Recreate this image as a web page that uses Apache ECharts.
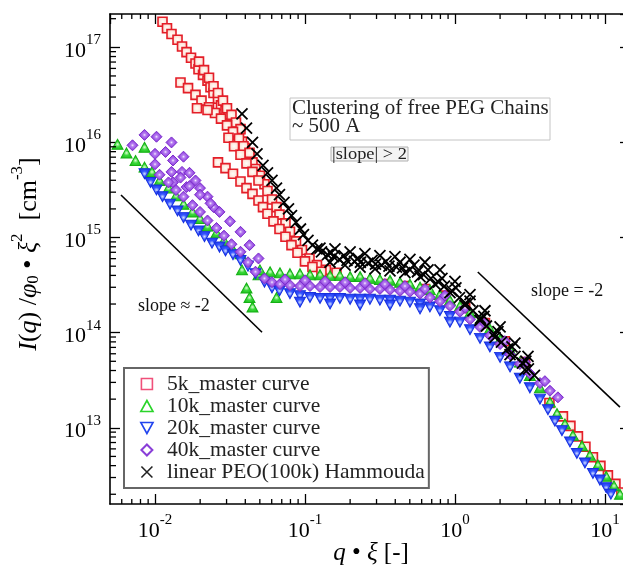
<!DOCTYPE html>
<html><head><meta charset="utf-8">
<script src="https://cdn.jsdelivr.net/npm/echarts@6/dist/echarts.min.js"></script>
<style>html,body{margin:0;padding:0;background:#fff;overflow:hidden}#c{width:623px;height:570px}</style>
</head><body><div id="c"></div>
<script>
const FONT = 'Liberation Serif';
const xRange = [0.00501, 14.7];
const yRange = [1.58e12, 2.24e17];
const xMinorTicks = [0.006,0.007,0.008,0.009,0.02,0.03,0.04,0.05,0.06,0.07,0.08,0.09,0.2,0.3,0.4,0.5,0.6,0.7,0.8,0.9,2,3,4,5,6,7,8,9];
const yMinorTicks = [2e12,3e12,4e12,5e12,6e12,7e12,8e12,9e12,2e13,3e13,4e13,5e13,6e13,7e13,8e13,9e13,2e14,3e14,4e14,5e14,6e14,7e14,8e14,9e14,2e15,3e15,4e15,5e15,6e15,7e15,8e15,9e15,2e16,3e16,4e16,5e16,6e16,7e16,8e16,9e16,2e17];
const seriesNames = ['5k_master curve','10k_master curve','20k_master curve','40k_master curve','linear PEO(100k) Hammouda'];

const data5k = [
[0.01122,1.86e17],[0.01202,1.585e17],[0.01288,1.38e17],[0.01413,1.20e17],[0.01514,1.02e17],[0.01622,8.91e16],[0.01738,7.76e16],[0.01862,6.76e16],[0.0195,5.89e16],[0.02089,5.13e16],[0.02239,4.47e16],[0.02344,3.80e16],[0.02455,3.31e16],[0.0263,2.88e16],[0.02754,2.45e16],[0.02951,2.14e16],[0.0309,1.86e16],[0.03236,1.585e16],[0.03388,1.38e16],[0.03548,1.20e16],[0.03802,1.02e16],[0.03981,8.71e15],[0.04266,7.41e15],[0.04467,6.17e15],[0.04677,5.25e15],[0.05012,4.47e15],[0.0537,3.63e15],[0.05623,3.09e15],[0.06026,2.51e15],[0.06457,2.09e15],[0.06761,1.74e15],[0.07413,1.41e15],[0.07943,1.15e15],[0.0871,9.12e14],[0.0955,7.41e14],[0.1072,6.03e14],[0.1202,5.13e14],[0.138,4.57e14],[0.1622,4.27e14],
[0.01965,7.08e16],[0.02122,5.75e16],[0.02291,4.79e16],[0.02455,3.89e16],[0.0263,3.31e16],[0.02838,2.75e16],[0.0302,2.29e16],[0.03236,1.95e16],[0.03467,1.62e16],[0.03715,1.38e16],
[0.01479,4.27e16],[0.0166,3.72e16],[0.01862,3.16e16],[0.02042,2.75e16],[0.02291,2.34e16],[0.02512,2.04e16],[0.02754,1.78e16],[0.0302,1.51e16],[0.03311,1.29e16],[0.03631,1.10e16],[0.0389,9.12e15],[0.04266,7.76e15],[0.01905,2.29e16],[0.02239,2.19e16],
[0.0309,1.12e16],[0.03365,9.12e15],[0.03715,7.41e15],[0.04074,6.03e15],[0.04467,4.9e15],[0.04898,3.98e15],
[0.0263,6.17e15],[0.02951,5.37e15],[0.03311,4.68e15],[0.03715,3.89e15],[0.04074,3.31e15],[0.04467,2.88e15],[0.04898,2.45e15],[0.05248,2.09e15],[0.05623,1.78e15],[0.06166,1.48e15],[0.06761,1.23e15],[0.07413,1.02e15],[0.08128,8.32e14],[0.08913,6.92e14],[0.1,5.62e14],[0.1122,4.9e14],[0.1288,4.37e14],
[0.185,3.39e14],[0.251,3.31e14],[0.341,3.24e14],[0.464,3.09e14],[0.631,2.88e14],[0.858,2.45e14],[1.17,1.82e14],[1.585,1.26e14],[2.15,8.13e13],[2.93,4.9e13],
[4.266,1.82e13],[5.248,1.318e13],[5.888,1.047e13],[6.607,8.13e12],[7.413,6.31e12],[8.318,4.9e12],[9.333,3.98e12],[10.47,3.16e12],[11.75,2.57e12],[12.88,2.09e12]
];
const data10k = [
[0.005623,9.55e15],[0.006457,7.76e15],[0.007413,6.46e15],[0.008511,8.91e15],[0.008511,5.5e15],[0.00955,4.9e15],[0.01072,3.98e15],[0.0123,3.31e15],[0.0138,2.75e15],[0.01549,2.24e15],[0.01778,1.86e15],[0.01995,1.585e15],[0.02239,1.318e15],[0.0257,1.122e15],[0.02884,9.33e14],[0.03236,7.94e14],[0.03715,6.76e14],
[0.03802,4.57e14],[0.04074,2.95e14],[0.04266,2.34e14],[0.04467,1.86e14],[0.06457,2.34e14],[0.04898,4.07e14],
[0.0501,4.57e14],[0.0585,4.37e14],[0.0681,4.27e14],[0.0794,4.17e14],[0.0926,4.17e14],[0.108,4.07e14],[0.126,4.07e14],[0.147,3.98e14],[0.171,3.98e14],[0.2,3.89e14],[0.233,3.89e14],[0.271,3.72e14],[0.316,3.63e14],[0.369,3.55e14],[0.43,3.39e14],[0.501,3.24e14],[0.585,3.02e14],[0.681,2.82e14],[0.794,2.51e14],[0.926,2.19e14],[1.08,1.91e14],[1.26,1.62e14],[1.47,1.35e14],[1.71,1.096e14],[2.0,8.51e13],[2.33,6.61e13],[2.71,4.9e13],[3.16,3.55e13],[3.69,2.63e13],[4.3,1.86e13],[4.79,1.41e13],[5.41,1.096e13],[6.12,8.32e12],[7.03,6.46e12],[7.94,5.13e12],[8.98,4.07e12],[10.2,3.09e12],[11.5,2.45e12],[12.6,2.0e12]
];
const data20k = [
[0.008511,4.68e15],[0.009333,3.8e15],[0.01023,3.16e15],[0.01122,2.69e15],[0.01259,2.24e15],[0.01413,1.905e15],[0.01549,1.62e15],[0.01738,1.35e15],[0.0195,1.175e15],[0.02138,1.023e15],[0.02399,8.71e14],[0.02692,7.94e14],[0.02951,7.24e14],[0.03311,6.61e14],[0.03715,5.75e14],[0.04169,5.01e14],[0.04677,4.17e14],[0.0537,3.39e14],[0.06026,2.95e14],[0.06761,2.75e14],
[0.0794,2.57e14],[0.0926,2.45e14],[0.108,2.34e14],[0.126,2.29e14],[0.147,2.29e14],[0.171,2.29e14],[0.2,2.24e14],[0.233,2.24e14],[0.271,2.24e14],[0.316,2.19e14],[0.369,2.19e14],[0.43,2.14e14],[0.501,2.09e14],[0.585,2.0e14],[0.681,1.86e14],[0.794,1.7e14],[0.926,1.48e14],[1.08,1.29e14],[1.26,1.072e14],[1.47,8.71e13],[1.71,7.08e13],[2.0,5.5e13],[2.33,4.37e13],[2.71,3.31e13],[3.16,2.63e13],[3.69,2.0e13],[4.17,1.55e13],[4.64,1.175e13],[5.17,9.33e12],[5.85,7.08e12],[6.5,5.37e12],[7.36,4.27e12],[8.32,3.31e12],[9.26,2.82e12],[10.2,2.34e12],[10.96,2.0e12],
[0.0926,2.09e14],[0.147,2.0e14],[0.233,1.95e14],[0.369,1.95e14],[0.585,1.78e14],[0.926,1.29e14]
];
const data40k = [
[0.007079,9.33e15],[0.008511,1.2e16],[0.01023,1.148e16],[0.01288,1.0e16],[0.01,7.59e15],[0.01175,7.94e15],[0.01318,6.46e15],[0.01549,7.08e15],[0.01,5.89e15],[0.01288,4.9e15],[0.01514,4.9e15],[0.01698,4.79e15],[0.01862,3.98e15],[0.01318,3.8e15],[0.01622,3.39e15],[0.01995,3.31e15],[0.02239,2.69e15],[0.02455,2.09e15],
[0.01072,4.57e15],[0.0123,3.8e15],[0.0138,3.16e15],[0.01549,2.69e15],[0.01778,2.19e15],[0.01995,1.86e15],[0.02239,1.51e15],[0.0257,1.26e15],[0.02884,1.047e15],[0.03236,8.51e14],[0.03715,7.08e14],[0.04169,5.5e14],[0.04677,4.37e14],[0.0537,3.72e14],[0.06026,3.39e14],
[0.01479,4.27e15],[0.01698,3.47e15],[0.01995,2.82e15],[0.02344,2.29e15],[0.02692,1.86e15],[0.03162,1.48e15],[0.03715,1.148e15],[0.04266,8.32e14],[0.04898,6.03e14],
[0.0681,3.24e14],[0.0794,3.16e14],[0.0926,3.09e14],[0.108,3.09e14],[0.126,3.02e14],[0.147,3.02e14],[0.171,3.02e14],[0.2,2.95e14],[0.233,2.95e14],[0.271,2.88e14],[0.316,2.88e14],[0.369,2.82e14],[0.43,2.75e14],[0.501,2.69e14],[0.585,2.57e14],[0.681,2.34e14],[0.794,2.14e14],[0.926,1.91e14],[1.08,1.66e14],[1.26,1.38e14],[1.47,1.148e14],[1.71,9.33e13],[2.0,7.59e13],[2.33,5.89e13],[2.71,4.68e13],[3.16,3.72e13],[3.69,2.95e13],[4.3,2.45e13],[4.86,2.09e13],
[0.0736,3.63e14],[0.1,3.55e14],[0.136,3.47e14],[0.185,3.39e14],[0.251,3.31e14],[0.341,3.24e14],[0.464,3.09e14],[0.631,2.88e14],[0.858,2.45e14],[1.17,1.82e14],[1.585,1.26e14],[2.15,8.13e13],[2.93,4.9e13],[3.98,3.09e13]
];
const dataPEO = [
[0.03802,2.0e16],[0.04074,1.413e16],[0.04467,1.0e16],[0.04786,7.59e15],[0.05248,5.75e15],[0.05623,4.79e15],[0.06026,3.98e15],[0.06457,3.31e15],[0.06761,2.82e15],[0.07244,2.34e15],[0.07762,2.0e15],[0.08128,1.70e15],[0.0871,1.445e15],[0.09333,1.23e15],[0.09772,1.072e15],[0.1047,9.33e14],[0.1122,8.32e14],[0.1202,7.59e14],[0.1288,7.08e14],[0.1413,6.61e14],[0.1549,6.31e14],[0.1698,5.89e14],[0.1905,5.75e14],[0.2138,5.62e14],[0.2344,5.5e14],[0.263,5.37e14],[0.2951,5.25e14],[0.3236,5.13e14],[0.3631,5.01e14],[0.4074,4.9e14],[0.4467,4.79e14],[0.5012,4.57e14],[0.5623,4.37e14],[0.6166,4.07e14],[0.6918,3.72e14],[0.7762,3.39e14],[0.8511,3.09e14],[0.955,2.75e14],[1.072,2.34e14],[1.175,2.04e14],[1.318,1.70e14],[1.479,1.41e14],[1.622,1.175e14],[1.82,9.77e13],[2.042,7.94e13],[2.239,6.76e13],[2.512,5.62e13],[2.818,4.79e13],[3.09,4.17e13],[3.388,3.55e13],
[0.1259,7.76e14],[0.149,6.92e14],[0.182,6.46e14],[0.2256,6.03e14],[0.28,5.75e14],[0.3467,5.62e14],[0.43,5.5e14],[0.533,5.13e14],[0.661,4.57e14],[0.819,3.72e14],[1.015,2.95e14],[1.26,2.14e14],[1.56,1.48e14],[1.936,1.023e14],[2.40,7.08e13],[2.97,5.01e13],
[0.1468,5.5e14],[0.1849,5.13e14],[0.233,4.9e14],[0.2934,4.68e14],[0.369,4.47e14],[0.464,4.27e14],[0.585,3.89e14],[0.736,3.24e14],[0.926,2.63e14],[1.166,1.95e14],[1.468,1.35e14],[1.848,8.91e13],[2.33,5.89e13],[2.93,4.07e13],
[0.1585,7.59e14],[0.2,7.08e14],[0.251,6.76e14],[0.316,6.46e14],[0.398,6.31e14],[0.501,5.89e14],[0.631,5.5e14],[0.794,4.57e14],[1.0,3.47e14],[1.26,2.51e14],[1.585,1.70e14],[2.0,1.148e14],[2.51,7.76e13],[3.07,5.62e13]
];
const slopeLeft = [[0.00593,2.8e15],[0.0517,1.01e14]];
const slopeRight = [[1.42,4.34e14],[12.6,1.65e13]];

const chart = echarts.init(document.getElementById('c'), null, {renderer:'canvas'});
const pow10 = v => '{b|10}{s|' + Math.round(Math.log10(v)) + '}';
const powRich = {
  b:{fontFamily:FONT, fontSize:22, color:'#000', verticalAlign:'bottom', padding:[7,0,0,0]},
  s:{fontFamily:FONT, fontSize:15, color:'#000', verticalAlign:'top'}
};
function logAxis(pos, showLabel, range, showLine, showTick){
  return {
    type:'log', logBase:10, min:range[0], max:range[1], position:pos,
    axisLine:{show:showLine, onZero:false, lineStyle:{color:'#000', width:1.6}},
    axisTick:{show:showTick, inside:true, length:10, lineStyle:{color:'#000', width:1.3}},
    minorTick:{show:false}, splitLine:{show:false},
    axisLabel:{show:showLabel, showMinLabel:false, showMaxLabel:false, margin:9, formatter:pow10, rich:powRich}
  };
}
const grad = (stops) => ({type:'radial', x:0.5, y:0.5, r:0.6, colorStops:stops.map(c=>({offset:c[0], color:c[1]}))});
const tickStyle = {stroke:'#000', lineWidth:1.3};
function minorX(params, api){
  const cs = params.coordSys;
  const px = api.coord([api.value(0), yRange[0]])[0];
  const b = cs.y + cs.height, t = cs.y;
  return {type:'group', children:[
    {type:'line', shape:{x1:px,y1:b,x2:px,y2:b-5}, style:tickStyle},
    {type:'line', shape:{x1:px,y1:t,x2:px,y2:t+5}, style:tickStyle}
  ]};
}
function minorY(params, api){
  const cs = params.coordSys;
  const py = api.coord([xRange[0], api.value(1)])[1];
  const l = cs.x;
  return {type:'line', shape:{x1:l,y1:py,x2:l+6,y2:py}, style:tickStyle};
}
const legendIcon = {
  sq:'path://M0,0H10V10H0Z', up:'path://M5,0L10,9L0,9Z', dn:'path://M0,0L10,0L5,9Z',
  di:'path://M5,0L10,5L5,10L0,5Z', x:'path://M0,0L10,10M10,0L0,10'
};
const option = {
  animation:false,
  backgroundColor:'#fff',
  grid:{left:110, top:14, width:520, height:490, outerBoundsMode:'none', containLabel:false},
  xAxis:[logAxis('bottom', true, xRange, true, true), logAxis('top', false, xRange, true, true)],
  yAxis:[logAxis('left', true, yRange, true, true), logAxis('right', false, yRange, true, true)],
  legend:{
    orient:'vertical', left:124, top:368,
    backgroundColor:'#fff', borderColor:'#666', borderWidth:2, borderRadius:0,
    padding:[5,4,5,16], itemWidth:14, itemHeight:11, itemGap:0,
    textStyle:{fontFamily:FONT, fontSize:21.5, color:'#222', lineHeight:21, padding:[0,0,0,8]},
    data:[
      {name:seriesNames[0], icon:legendIcon.sq, itemStyle:{color:'rgba(0,0,0,0)', borderColor:'#f0507a', borderWidth:1.6}},
      {name:seriesNames[1], icon:legendIcon.up, itemStyle:{color:'rgba(0,0,0,0)', borderColor:'#2ad42a', borderWidth:1.6}},
      {name:seriesNames[2], icon:legendIcon.dn, itemStyle:{color:'rgba(0,0,0,0)', borderColor:'#2244ee', borderWidth:1.6}},
      {name:seriesNames[3], icon:legendIcon.di, itemStyle:{color:'rgba(0,0,0,0)', borderColor:'#8a3fd8', borderWidth:2}},
      {name:seriesNames[4], icon:legendIcon.x, itemStyle:{color:'rgba(0,0,0,0)', borderColor:'#222', borderWidth:1.6}}
    ]
  },
  graphic:[
    {type:'rect', shape:{x:290,y:98,width:260,height:42}, style:{fill:'#fff', stroke:'#c4c4c4', lineWidth:1}, z:10},
    {type:'text', x:292, y:99, scaleX:1.05, z:11, style:{text:'Clustering of free PEG Chains\n~ 500 A', fontFamily:FONT, fontSize:20, lineHeight:18.5, fill:'#222', align:'left', verticalAlign:'top'}},
    {type:'rect', shape:{x:331,y:147,width:77,height:14}, style:{fill:'#f4f4f4', stroke:'#b0b0b0', lineWidth:1}, z:10},
    {type:'text', x:332, y:154.5, scaleX:1.15, z:11, style:{text:'|slope| > 2', fontFamily:FONT, fontSize:16, fill:'#222', align:'left', verticalAlign:'middle'}},
    {type:'text', x:138, y:306, z:11, style:{text:'slope ≈ -2', fontFamily:FONT, fontSize:18, fill:'#111', align:'left', verticalAlign:'middle'}},
    {type:'text', x:531, y:291, z:11, style:{text:'slope = -2', fontFamily:FONT, fontSize:18, fill:'#111', align:'left', verticalAlign:'middle'}},
    {type:'text', x:371, y:553, z:11, style:{text:'{i|q} • {i|ξ} [-]', fontFamily:FONT, fontSize:25, fill:'#000', align:'center', verticalAlign:'middle',
      rich:{i:{fontFamily:FONT, fontSize:25, fontStyle:'italic', fill:'#000'}}}},
    {type:'text', x:26, y:254, rotation:Math.PI/2, z:11, style:{
      text:'{i|I}{n|(}{i|q}{n|) /}{i|φ}{sub|0}{n| • }{i|ξ}{sup|2}{n|  [cm}{sup|-3}{n|]}',
      fontFamily:FONT, fontSize:26, fill:'#000', align:'center', verticalAlign:'middle',
      rich:{
        n:{fontFamily:FONT, fontSize:26, fill:'#000', verticalAlign:'bottom', padding:[7,0,0,0]},
        i:{fontFamily:FONT, fontSize:26, fontStyle:'italic', fill:'#000', verticalAlign:'bottom', padding:[7,0,0,0]},
        sup:{fontFamily:FONT, fontSize:17, fill:'#000', verticalAlign:'top'},
        sub:{fontFamily:FONT, fontSize:17, fill:'#000', verticalAlign:'bottom'}
      }}}
  ],
  series:[
    {name:seriesNames[0], type:'scatter', data:data5k, symbol:'rect', symbolSize:9,
      itemStyle:{color:grad([[0,'#fffef6'],[0.55,'#fde6dc'],[1,'#f39a8c']]), borderColor:'#e41e28', borderWidth:1.6, opacity:1}},
    {name:seriesNames[1], type:'scatter', data:data10k, symbol:'triangle', symbolSize:[11,10],
      itemStyle:{color:grad([[0,'#d8ffd0'],[0.4,'#3ad83a'],[1,'#18bb18']]), borderColor:'#14b014', borderWidth:1, opacity:1}},
    {name:seriesNames[2], type:'scatter', data:data20k, symbol:'path://M0,0L10,0L5,9Z', symbolSize:[11,10],
      itemStyle:{color:grad([[0,'#cfdcff'],[0.4,'#3555ff'],[1,'#1a34e8']]), borderColor:'#1630e0', borderWidth:1, opacity:1}},
    {name:seriesNames[3], type:'scatter', data:data40k, symbol:'diamond', symbolSize:11,
      itemStyle:{color:grad([[0,'#f6ecff'],[0.22,'#b57ef0'],[0.6,'#9646e2'],[1,'#8636d6']]), borderColor:'#7a2ecb', borderWidth:1, opacity:1}},
    {name:seriesNames[4], type:'scatter', data:dataPEO, symbol:'path://M0,0L10,10M10,0L0,10', symbolSize:11,
      itemStyle:{color:'rgba(0,0,0,0)', borderColor:'#000', borderWidth:1.8, opacity:1}},
    {name:'slopeL', type:'line', data:slopeLeft, symbol:'none', lineStyle:{color:'#000', width:1.6}, silent:true},
    {name:'slopeR', type:'line', data:slopeRight, symbol:'none', lineStyle:{color:'#000', width:1.6}, silent:true},
    {name:'minorX', type:'custom', data:xMinorTicks.map(v => [v, yRange[0]]), renderItem:minorX, clip:false, silent:true, z:5},
    {name:'minorY', type:'custom', data:yMinorTicks.map(v => [xRange[0], v]), renderItem:minorY, clip:false, silent:true, z:5}
  ]
};
chart.setOption(option);
</script></body></html>
